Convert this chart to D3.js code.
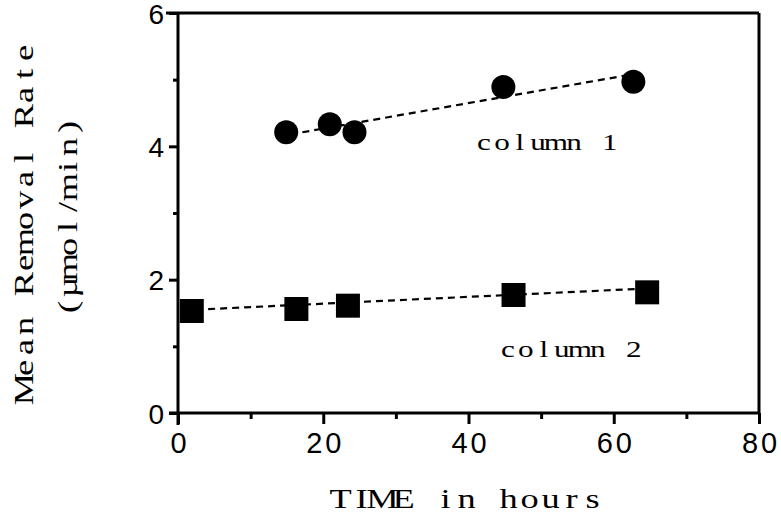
<!DOCTYPE html>
<html><head><meta charset="utf-8">
<script src="https://cdn.jsdelivr.net/npm/d3@7"></script>
<style>
html,body{margin:0;padding:0;background:#fff;}
svg{display:block;}
</style></head>
<body>
<svg id="chart" width="781" height="524"></svg>
<script>
// ---- data ----
const col1Time = [14.9, 20.9, 24.3, 44.8, 62.7];
const col1Rate = [4.21, 4.33, 4.21, 4.89, 4.97];
const col2Time = [1.9, 16.3, 23.4, 46.2, 64.6];
const col2Rate = [1.53, 1.56, 1.61, 1.77, 1.81];
// dashed trend lines: [start, end]
const col1FitTime = [15.5, 61.5];
const col1FitRate = [4.18, 5.06];
const col2FitTime = [2.5, 63.0];
const col2FitRate = [1.55, 1.86];
const xTicks = [0, 20, 40, 60, 80];
const xMinorTicks = [10, 30, 50, 70];
const yTicks = [0, 2, 4, 6];
const yMinorTicks = [1, 3, 5];
const labels = [
  {text: "column 1", x: 50.8, y: 3.95},
  {text: "column 2", x: 54.1, y: 0.84}
];
const xTitle = "TIME in hours";
const yTitle1 = "Mean Removal Rate";
const yTitle2 = "(\u00B5mol/min)";

// ---- layout ----
const svg = d3.select("#chart");
const L = 178, R = 759, T = 13, B = 413;
const x = d3.scaleLinear().domain([0, 80]).range([L, R]);
const y = d3.scaleLinear().domain([0, 6]).range([B, T]);
const ink = "#000";
const serif = "'Liberation Serif', 'Times New Roman', serif";
const sans = "'Liberation Sans', Arial, sans-serif";

// typewriter-style text: each character centred in a fixed-pitch cell,
// glyphs widened horizontally to mimic a typewriter face
const stretch = 1.3;
function monoText(parent, str, cx, cy, pitch, size, rotate) {
  const n = str.length;
  const xs = d3.range(n).map(i => ((i - (n - 1) / 2) * pitch / stretch).toFixed(2));
  const g = parent.append("g")
    .attr("transform", `translate(${cx},${cy})` + (rotate ? " rotate(-90)" : "") + ` scale(${stretch},1)`);
  return g.append("text")
    .attr("x", xs.join(" ")).attr("y", 0)
    .attr("text-anchor", "middle").attr("font-family", serif)
    .attr("font-size", size).attr("fill", ink).text(str);
}

// frame (top and right)
svg.append("line").attr("x1", L - 12).attr("x2", R).attr("y1", T).attr("y2", T)
  .attr("stroke", ink).attr("stroke-width", 3);
svg.append("line").attr("x1", R).attr("x2", R).attr("y1", T).attr("y2", B)
  .attr("stroke", ink).attr("stroke-width", 3);

// x axis
const xAxis = d3.axisBottom(x).tickValues(xTicks).tickSize(11).tickSizeOuter(0)
  .tickPadding(8).tickFormat(d3.format("d"));
const gx = svg.append("g").attr("transform", `translate(0,${B})`).call(xAxis);
gx.select(".domain").attr("stroke", ink).attr("stroke-width", 3)
  .attr("d", `M${L - 9},0H${R}`);
gx.selectAll(".tick line").attr("stroke", ink).attr("stroke-width", 3);
gx.selectAll(".tick text").attr("font-family", sans).attr("font-size", 29)
  .attr("fill", ink).attr("letter-spacing", 3).attr("dy", "0.71em")
  .attr("dx", 1.5);
svg.append("g").attr("transform", `translate(0,${B})`)
  .call(d3.axisBottom(x).tickValues(xMinorTicks).tickSize(6).tickFormat(""))
  .call(g => g.select(".domain").remove())
  .selectAll(".tick line").attr("stroke", ink).attr("stroke-width", 3);

// y axis
const yAxis = d3.axisLeft(y).tickValues(yTicks).tickSize(9).tickSizeOuter(0)
  .tickPadding(5).tickFormat(d3.format("d"));
const gy = svg.append("g").attr("transform", `translate(${L},0)`).call(yAxis);
gy.select(".domain").attr("stroke", ink).attr("stroke-width", 3)
  .attr("d", `M0,${T}V${B + 12}`);
gy.selectAll(".tick line").attr("stroke", ink).attr("stroke-width", 3);
gy.selectAll(".tick text").attr("font-family", sans).attr("font-size", 28)
  .attr("fill", ink).attr("dy", "0.36em");
svg.append("g").attr("transform", `translate(${L},0)`)
  .call(d3.axisLeft(y).tickValues(yMinorTicks).tickSize(5).tickFormat(""))
  .call(g => g.select(".domain").remove())
  .selectAll(".tick line").attr("stroke", ink).attr("stroke-width", 3);

// dashed trend lines
const line = d3.line().x(d => x(d[0])).y(d => y(d[1]));
[[col1FitTime, col1FitRate], [col2FitTime, col2FitRate]].forEach(([tx, ty]) => {
  svg.append("path").datum(tx.map((t, i) => [t, ty[i]]))
    .attr("d", line).attr("fill", "none").attr("stroke", ink)
    .attr("stroke-width", 2.2).attr("stroke-dasharray", "7,5");
});

// markers
svg.append("g").selectAll("circle").data(col1Time.map((t, i) => [t, col1Rate[i]]))
  .join("circle").attr("cx", d => x(d[0])).attr("cy", d => y(d[1])).attr("r", 12)
  .attr("fill", ink);
const s = 24;
svg.append("g").selectAll("rect").data(col2Time.map((t, i) => [t, col2Rate[i]]))
  .join("rect").attr("x", d => x(d[0]) - s / 2).attr("y", d => y(d[1]) - s / 2)
  .attr("width", s).attr("height", s).attr("fill", ink);

// labels
const gl = svg.append("g");
labels.forEach(d => monoText(gl, d.text, x(d.x), y(d.y), 18, 24));

// axis titles
monoText(svg, xTitle, (L + R) / 2 - 2, 508, 21, 28);
monoText(svg, yTitle1, 33, 221, 21, 28, true);
monoText(svg, yTitle2, 77, 217, 20, 28, true);
</script>
</body></html>
